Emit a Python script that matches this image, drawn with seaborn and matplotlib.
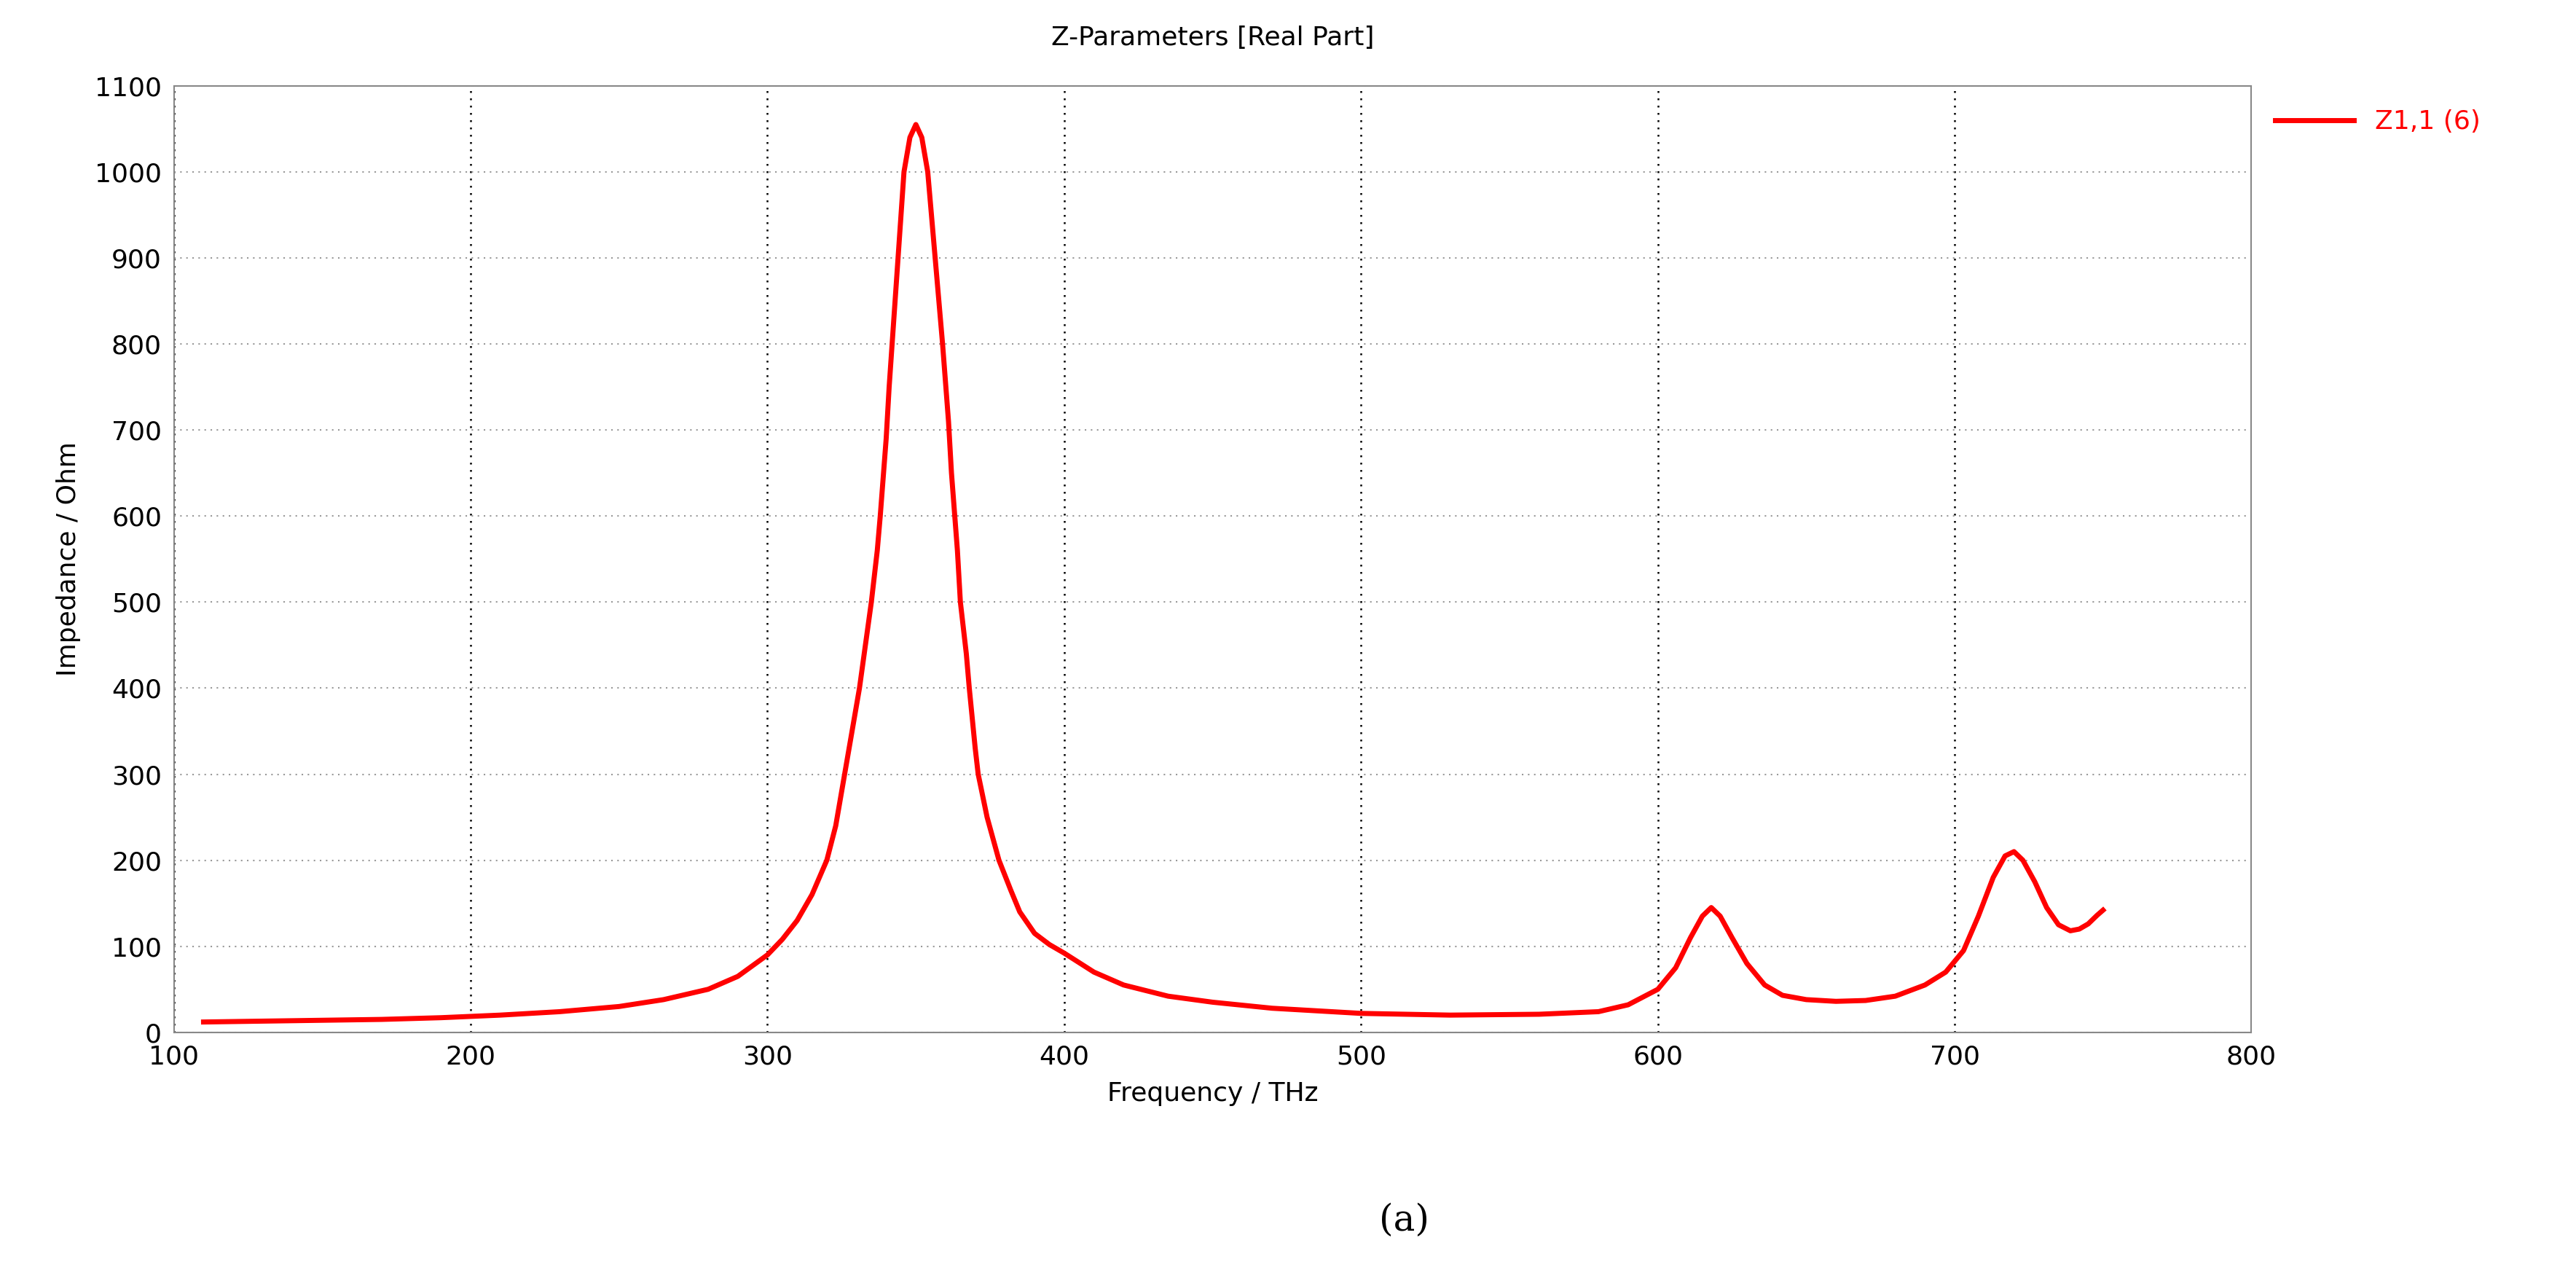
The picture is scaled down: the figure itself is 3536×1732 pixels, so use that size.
import matplotlib
matplotlib.use("Agg")
import matplotlib.pyplot as plt
import seaborn as sns
import pandas as pd

freq = [110,130,150,170,190,210,230,250,265,280,290,300,305,310,315,320,323,326,329,331,333,335,337,338,340,341,343,345,346,348,350,352,354,355,357,359,361,362,364,365,367,368,370,371,374,378,382,385,390,395,400,410,420,435,450,470,500,530,560,580,590,600,606,611,615,618,621,625,630,636,642,650,660,670,680,690,697,703,708,713,717,720,723,727,731,735,739,742,745,748,750]
imp  = [12,13,14,15,17,20,24,30,38,50,65,90,108,130,160,200,240,300,360,400,450,500,560,600,690,750,850,950,1000,1040,1055,1040,1000,960,880,800,710,650,560,500,440,400,330,300,250,200,165,140,115,102,92,70,55,42,35,28,22,20,21,24,32,50,75,110,135,145,135,110,80,55,43,38,36,37,42,55,70,95,135,180,205,210,200,175,145,125,118,120,126,136,142]

df = pd.DataFrame({"Frequency": freq, "Impedance": imp})

fig = plt.figure(figsize=(35.36, 17.32), dpi=100)
ax = fig.add_axes([0.0675, 0.182, 0.8065, 0.75])
sns.lineplot(data=df, x="Frequency", y="Impedance", ax=ax, color="#ff0000", lw=5, label="Z1,1 (6)")
ax.set_xlim(100, 800)
ax.set_ylim(0, 1100)
ax.set_xticks(range(100, 801, 100))
ax.set_yticks(range(0, 1101, 100))
ax.tick_params(labelsize=26, length=0, pad=12)
ax.xaxis.grid(True, color="black", linestyle=(0, (1, 3)), lw=1.8)
ax.yaxis.grid(True, color="#999999", linestyle=(0, (1, 3)), lw=1.5)
for s in ax.spines.values():
    s.set_color("#888888"); s.set_linewidth(1.5)
ax.set_xlabel("Frequency / THz", fontsize=26, labelpad=12)
ax.set_ylabel("Impedance / Ohm", fontsize=26, labelpad=14)
ax.set_title("Z-Parameters [Real Part]", fontsize=26, pad=40)
leg = ax.legend(loc="upper left", bbox_to_anchor=(1.0, 1.0), frameon=False, fontsize=26, handlelength=3)
for t in leg.get_texts():
    t.set_color("#ff0000")
fig.text(0.545, 0.025, "(a)", fontsize=36, family="DejaVu Serif", ha="center")
fig.savefig("out.png", dpi=100, facecolor="white")
